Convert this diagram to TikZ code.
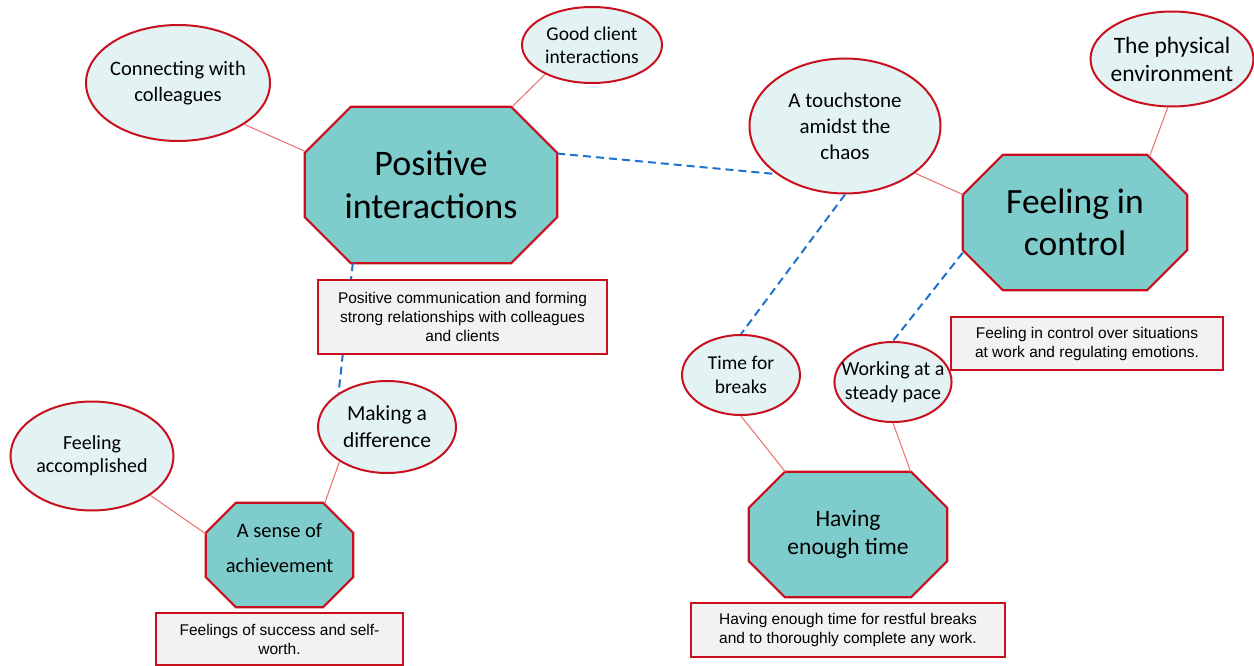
\documentclass[tikz,border=0pt]{standalone}
\usepackage{fontspec}
\setmainfont{Carlito}
\newfontfamily\notefont{Liberation Sans}
\usetikzlibrary{shapes.geometric, backgrounds}

\definecolor{themefill}{RGB}{126,205,204}
\definecolor{subfill}{RGB}{227,243,244}
\definecolor{edgered}{RGB}{200,16,30}
\definecolor{linkred}{RGB}{232,110,110}
\definecolor{dashblue}{RGB}{30,114,205}
\definecolor{notefill}{RGB}{242,242,242}

\newcommand{\setfs}[2]{\fontsize{#1}{#2}\selectfont}

\tikzstyle{theme} = [rectangle, inner sep=0pt, align=center]
\tikzstyle{octagon} = [draw=edgered, line width=2.2pt, fill=themefill, line join=miter]
\tikzstyle{subtheme} = [ellipse, draw=edgered, line width=2pt, fill=subfill, inner xsep=-10pt, inner ysep=0pt, align=center]
\tikzstyle{note} = [rectangle, draw=edgered, line width=2pt, fill=notefill, align=center, font=\notefont\setfs{15.5}{19}]
\tikzstyle{link} = [draw=linkred, line width=1pt]
\tikzstyle{crosslink} = [draw=dashblue, line width=2pt, dash pattern=on 8pt off 5pt]

\begin{document}
\begin{tikzpicture}[x=1pt,y=-1pt]
\useasboundingbox (0,0) rectangle (1254,666);

% themes
\node[theme, minimum width=252pt, minimum height=156pt, font=\setfs{36}{43}] (pi) at (431,185) {Positive\\interactions};
\node[theme, minimum width=224pt, minimum height=135pt, font=\setfs{35.5}{42}] (fc) at (1075,222.5) {Feeling in\\control};
\node[theme, minimum width=198pt, minimum height=125pt, font=\setfs{23.5}{28}] (ht) at (848,534.5) {Having\\enough time};
\node[theme, minimum width=147pt, minimum height=104pt, text depth=15pt, font=\setfs{20.5}{35}] (sa) at (279.5,555) {A sense of\\achievement};

% octagon outlines behind the themes
\begin{pgfonlayer}{background}
\foreach \n/\cut in {pi/46, fc/40, ht/36, sa/30}
{
\draw[octagon] ([xshift=\cut pt]\n.north west) -- ([xshift=-\cut pt]\n.north east)
  -- ([yshift=-\cut pt]\n.north east) -- ([yshift=\cut pt]\n.south east)
  -- ([xshift=-\cut pt]\n.south east) -- ([xshift=\cut pt]\n.south west)
  -- ([yshift=\cut pt]\n.south west) -- ([yshift=-\cut pt]\n.north west) -- cycle;
}
\end{pgfonlayer}

% subthemes
\node[subtheme, minimum width=184pt, minimum height=116pt, font=\setfs{20.5}{26}] (cc) at (178,83) {Connecting with\\colleagues};
\node[subtheme, minimum width=140pt, minimum height=76pt, font=\setfs{19.5}{23}] (gc) at (592,45) {Good client\\interactions};
\node[subtheme, minimum width=191pt, minimum height=135pt, font=\setfs{21}{26}] (ts) at (845,126) {A touchstone\\amidst the\\chaos};
\node[subtheme, minimum width=163pt, minimum height=95pt, font=\setfs{23.5}{28}] (pe) at (1172,59) {The physical\\environment};
\node[subtheme, minimum width=118pt, minimum height=80pt, font=\setfs{19.5}{24}] (tb) at (741,375) {Time for\\breaks};
\node[subtheme, minimum width=116pt, minimum height=80pt, font=\setfs{20}{24}] (ws) at (893,382) {Working at a\\steady pace};
\node[subtheme, minimum width=163pt, minimum height=109pt, font=\setfs{20}{23}] (fa) at (92,456) {Feeling\\accomplished};
\node[subtheme, minimum width=138pt, minimum height=92pt, font=\setfs{21.5}{27}] (md) at (387,427) {Making a\\difference};

% links
\draw[link] (cc.328) -- (pi.165);
\draw[link] (gc.212) -- (pi.44);
\draw[link] (ts.326) -- (fc.166);
\draw[link] (pe.265) -- (fc.42);
\draw[link] (tb.south) -- (ht.135);
\draw[link] (ws.south) -- (ht.45);
\draw[link] (fa.326) -- (sa.164);
\draw[link] (md.216) -- (sa.49);

\draw[crosslink] (pi.14) -- (ts.215);
\draw[crosslink] (ts.south) -- (tb.north);
\draw[crosslink] (fc.195) -- (ws.north);
\draw[crosslink] (pi.225) -- (md.145);

% notes
\node[note, minimum width=289pt, minimum height=74pt] (pinote) at (462.5,317) {Positive communication and forming\\strong relationships with colleagues\\and clients};
\node[note, minimum width=272pt, minimum height=53pt] (fcnote) at (1087,343.5) {Feeling in control over situations\\at work and regulating emotions.};
\node[note, minimum width=247pt, minimum height=52pt] (sanote) at (279.5,639) {Feelings of success and self-\\worth.};
\node[note, minimum width=314pt, minimum height=54pt] (htnote) at (848,630) {Having enough time for restful breaks\\and to thoroughly complete any work.};

\end{tikzpicture}
\end{document}
